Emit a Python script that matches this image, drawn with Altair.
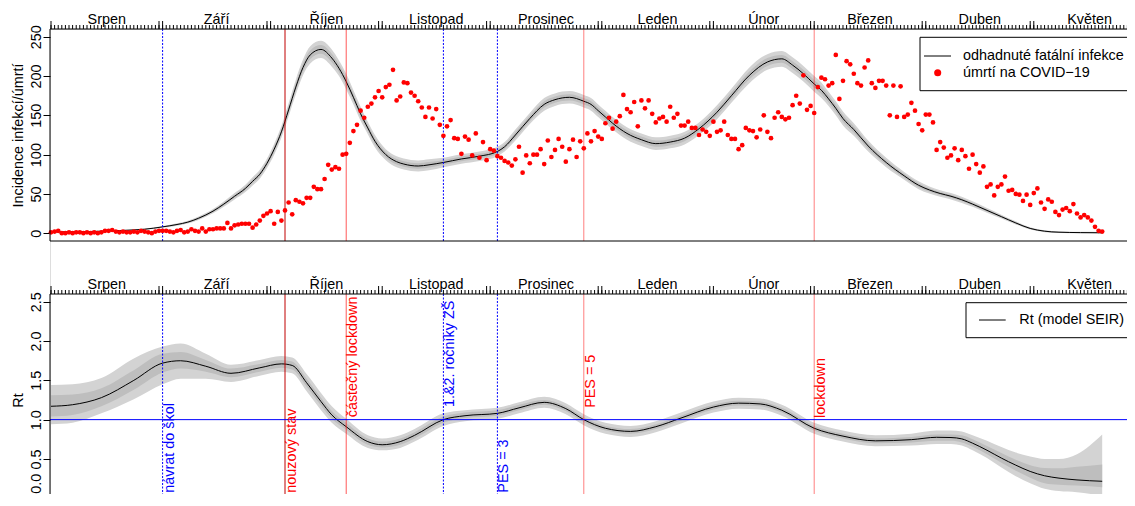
import altair as alt
import pandas as pd

FONT = "Liberation Sans"
FS = 14.4

# ---------------- data ----------------
months = ["Srpen", "Září", "Říjen", "Listopad", "Prosinec", "Leden", "Únor", "Březen", "Duben", "Květen"]
# days since 1 Aug 2020 at which each month starts (last = 1 June)
month_start = [0, 31, 61, 92, 122, 153, 184, 212, 243, 273, 304]

# daily COVID-19 deaths, day 0 = 1 Aug 2020
deaths = [
    1, 2, 3, 0, 0, 1, 0, 1, 1, 0, 1, 0, 1, 0, 1, 3, 3, 4, 2, 1, 2, 1, 1, 2, 1, 3, 2, 1, 0, 2, 3, 3,
    3, 2, 1, 3, 4, 1, 2, 5, 3, 2, 6, 2, 5, 5, 6, 6, 6, 13, 6, 10, 11, 12, 12, 12, 7, 11,
    16, 22, 25, 28, 12, 27, 16, 29, 39, 24, 42, 40, 38, 45, 45, 59, 56, 56, 69, 87, 81, 84, 82, 100, 101,
    115, 130, 138, 156, 147, 161, 165, 173, 181, 173, 186, 189, 208, 169, 174, 192, 191, 179, 175, 168,
    160, 148, 160, 146, 158, 138,
    124, 136, 144, 121, 120, 101, 123, 119, 99, 127, 96, 116, 93, 107, 105, 98, 96, 92, 90, 86,
    94, 110, 77, 99, 89, 100, 100, 107, 88, 118, 97, 106, 120, 110, 91, 107, 119, 97, 117, 108,
    127, 117, 130, 123, 120, 140, 147,
    133, 142, 149, 176, 158, 154, 167, 136, 169, 159, 169, 152, 141, 146, 148, 142, 161, 147, 152, 137,
    137, 142, 134, 134, 125, 132, 129, 124, 142, 129, 131, 142, 125, 120, 120, 107, 112, 134, 131, 130,
    122, 132, 150, 129, 121, 147, 154,
    148, 145, 147, 163, 175, 165, 201, 157, 162, 153, 186, 198, 196, 188, 191, 227, 171, 194, 219, 215,
    203, 191, 188, 211, 220, 191, 185, 194, 194, 188, 150, 188, 148, 187, 148, 151, 166, 156, 139, 131,
    151, 151, 141, 106, 116, 109, 96, 99, 108, 93, 106, 98, 82, 100, 88, 77, 85, 59, 62, 48,
    59, 62, 72, 54, 55, 50, 49, 41, 49, 36, 51, 57, 39, 31, 43, 40, 27, 23, 30, 32,
    28, 37, 25, 20, 23, 20, 16, 8, 3, 2,
]

# estimated fatal infections (model), with 95 % and 50 % half-widths
inf_day = [0, 10, 20, 26, 31, 35, 38, 41, 45, 48,
           51, 54, 56, 58, 60, 62, 64, 66, 68, 70,
           72, 75, 78, 80, 82, 84, 86, 88, 90, 93,
           96, 98, 102, 105, 109, 114, 119, 124, 126, 129,
           133, 137, 140, 144, 148, 150, 152, 154, 156, 160,
           164, 168, 172, 176, 180, 185, 189, 194, 199, 203,
           206, 209, 212, 214, 216, 218, 220, 223, 227, 232,
           237, 241, 244, 247, 250, 253, 256, 260, 264, 268,
           272, 276, 280, 286, 292]
inf_val = [1.5, 2, 3.5, 5, 8, 11, 14, 19, 28, 37,
           47, 57, 66, 75, 89, 107, 129, 157, 186, 211,
           227, 234, 223, 210, 193, 173, 152, 134, 117, 100,
           91, 88, 85.5, 87, 90, 94.5, 98, 104, 110, 125,
           146, 164, 170, 173, 168, 164, 156, 148, 140, 127,
           119, 114, 116, 121, 133, 154, 175, 201, 218, 222,
           214, 203, 190, 182, 171, 159, 146, 132, 111, 90,
           73, 61, 55, 50.5, 47, 42.5, 37, 29, 21, 13,
           6, 2.5, 1.2, 0.7, 0.5]
inf_hw95 = [0.3, 0.4, 0.6, 0.8, 1.2, 1.5, 1.8, 2.2, 2.8, 3.4,
            4, 4.6, 5.2, 5.6, 6, 7, 7.5, 8.5, 9.5, 10,
            11, 11, 11, 10, 10, 9, 9, 8, 8, 7,
            7, 7, 7, 7, 6, 6, 6, 6, 6, 7,
            7, 8, 8, 8, 8, 8, 8, 8, 8, 8,
            8, 8, 8, 8, 8, 9, 9, 10, 10, 10,
            10, 10, 10, 10, 9, 9, 9, 8, 7, 6,
            5, 5, 4.5, 4, 4, 4, 3.5, 3, 2.5, 2,
            1.5, 1.2, 1, 1, 1]
inf_hw50 = [0.15, 0.2, 0.3, 0.4, 0.6, 0.7, 0.9, 1.1, 1.4, 1.7,
            2, 2.3, 2.6, 2.8, 3, 3.5, 3.8, 4.2, 4.7, 5,
            5.5, 5.5, 5.5, 5, 5, 4.5, 4.5, 4, 4, 3.5,
            3.5, 3.5, 3.5, 3.5, 3, 3, 3, 3, 3, 3.5,
            3.5, 4, 4, 4, 4, 4, 4, 4, 4, 4,
            4, 4, 4, 4, 4, 4.5, 4.5, 5, 5, 5,
            5, 5, 5, 5, 4.5, 4.5, 4.5, 4, 3.5, 3,
            2.5, 2.5, 2.2, 2, 2, 2, 1.8, 1.5, 1.2, 1,
            0.8, 0.6, 0.5, 0.5, 0.5]

# Rt (SEIR model) with 95 % and 50 % intervals
rt_day = [0, 6, 14, 23, 31, 36, 43, 50, 58, 64,
          67, 71, 75, 78, 82, 88, 92, 97, 101, 109,
          115, 124, 130, 137, 143, 148, 154, 161, 168, 175,
          184, 191, 197, 203, 212, 220, 229, 239, 246, 250,
          253, 256, 260, 264, 268, 272, 276, 280, 285, 292]
rt_val = [1.17, 1.19, 1.28, 1.50, 1.72, 1.75, 1.68, 1.59, 1.66, 1.71,
          1.69, 1.47, 1.23, 1.06, 0.91, 0.72, 0.68, 0.72, 0.80, 1.00,
          1.05, 1.08, 1.15, 1.22, 1.14, 1.00, 0.89, 0.85, 0.91, 1.02,
          1.16, 1.21, 1.20, 1.12, 0.89, 0.79, 0.73, 0.745, 0.775, 0.772,
          0.755, 0.70, 0.61, 0.51, 0.42, 0.34, 0.285, 0.255, 0.232, 0.215]
rt_lo95 = [0.94, 0.96, 1.08, 1.26, 1.45, 1.52, 1.52, 1.48, 1.56, 1.61,
           1.59, 1.36, 1.12, 0.96, 0.82, 0.64, 0.61, 0.64, 0.72, 0.92,
           0.98, 1.01, 1.08, 1.15, 1.07, 0.93, 0.82, 0.78, 0.84, 0.95,
           1.09, 1.14, 1.13, 1.05, 0.82, 0.72, 0.66, 0.67, 0.69, 0.69,
           0.67, 0.61, 0.51, 0.39, 0.28, 0.19, 0.12, 0.09, 0.075, 0.03]
rt_hi95 = [1.44, 1.45, 1.53, 1.78, 1.93, 1.97, 1.84, 1.70, 1.76, 1.81,
           1.79, 1.58, 1.34, 1.17, 1.01, 0.80, 0.76, 0.80, 0.88, 1.08,
           1.12, 1.15, 1.22, 1.29, 1.21, 1.07, 0.96, 0.92, 0.98, 1.09,
           1.23, 1.28, 1.27, 1.19, 0.96, 0.86, 0.80, 0.82, 0.86, 0.86,
           0.85, 0.80, 0.73, 0.65, 0.58, 0.53, 0.50, 0.50, 0.56, 0.81]
rt_lo50 = [1.04, 1.06, 1.17, 1.38, 1.60, 1.65, 1.61, 1.54, 1.61, 1.66,
           1.64, 1.42, 1.18, 1.01, 0.87, 0.68, 0.645, 0.68, 0.76, 0.96,
           1.02, 1.05, 1.12, 1.19, 1.11, 0.97, 0.86, 0.82, 0.88, 0.99,
           1.13, 1.18, 1.17, 1.09, 0.86, 0.76, 0.70, 0.71, 0.73, 0.73,
           0.71, 0.655, 0.56, 0.45, 0.35, 0.26, 0.19, 0.17, 0.16, 0.14]
rt_hi50 = [1.31, 1.32, 1.40, 1.63, 1.84, 1.86, 1.76, 1.65, 1.71, 1.76,
           1.74, 1.52, 1.28, 1.11, 0.96, 0.76, 0.72, 0.76, 0.84, 1.04,
           1.09, 1.12, 1.19, 1.25, 1.17, 1.03, 0.92, 0.88, 0.94, 1.05,
           1.19, 1.24, 1.23, 1.15, 0.92, 0.82, 0.76, 0.78, 0.81, 0.81,
           0.80, 0.75, 0.665, 0.575, 0.49, 0.42, 0.385, 0.38, 0.40, 0.43]
rt_threshold = [1.0]

# interventions
ev_day = [31, 65, 82, 109, 124, 148, 212]
ev_label = ["návrat do škol", "nouzový stav", "částečný lockdown", "1.&2. ročníky ZŠ",
            "PES = 3", "PES = 5", "lockdown"]
ev_color = ["#0000ff", "#c00000", "#ff0000", "#0000ff", "#0000ff", "#ff0000", "#ff0000"]
ev_label_color = ["#0000ff", "#ff0000", "#ff0000", "#0000ff", "#0000ff", "#ff0000", "#ff0000"]
ev_opacity = [1, 1, 0.65, 1, 1, 0.5, 0.5]
ev_dotted = [True, False, False, True, True, False, False]
ev_label_rt = [0.07, 0.07, 1.03, 1.16, 0.07, 1.15, 1.02]

legend_top = ["odhadnuté fatální infekce", "úmrtí na COVID−19"]
legend_bottom = ["Rt (model SEIR)"]

# ---------------- frames ----------------
deaths_df = pd.DataFrame({"day": list(range(len(deaths))), "deaths": deaths})
inf_df = pd.DataFrame({"day": inf_day, "val": inf_val,
                       "lo95": [v - h for v, h in zip(inf_val, inf_hw95)],
                       "hi95": [v + h for v, h in zip(inf_val, inf_hw95)],
                       "lo50": [v - h for v, h in zip(inf_val, inf_hw50)],
                       "hi50": [v + h for v, h in zip(inf_val, inf_hw50)]})
rt_df = pd.DataFrame({"day": rt_day, "rt": rt_val, "lo95": rt_lo95, "hi95": rt_hi95,
                      "lo50": rt_lo50, "hi50": rt_hi50})
ev_df = pd.DataFrame({"day": ev_day, "label": ev_label, "color": ev_color,
                      "lcolor": ev_label_color,
                      "opacity": ev_opacity, "dotted": ev_dotted, "ly": ev_label_rt})
thr_df = pd.DataFrame({"rt": rt_threshold})
one = pd.DataFrame({"k": [0]})

month_mid = [(a + b) / 2 for a, b in zip(month_start[:-1], month_start[1:])]
long_ticks = sorted(set(month_start + [s - 1 for s in month_start if s > 0]))
day_ticks = list(range(0, 306))
day_df = pd.DataFrame({"day": day_ticks})
long_df = pd.DataFrame({"day": long_ticks})
mlab_df = pd.DataFrame({"day": month_mid, "name": months})

# ---------------- layout (pixels inside the view) ----------------
PW = 1100                 # panel width (runs past the right page edge, like the original)
T0, T1 = 0, 212           # top panel
B0, B1 = 265, 477         # bottom panel
VIEW_W, VIEW_H = 1077, 465

xs = alt.Scale(domain=[-0.28, 305.28], range=[0, PW], nice=False, zero=False)
ys_top = alt.Scale(domain=[-10, 260], range=[T1, T0], nice=False, zero=False)
ys_bot = alt.Scale(domain=[-0.1, 2.6], range=[B1, B0], nice=False, zero=False)
X = lambda f: alt.X(f, scale=xs, axis=None)


def frame(y0, y1):
    return alt.Chart(one).mark_rect(fill=None, stroke="black", strokeWidth=1).encode(
        x=alt.value(0), x2=alt.value(PW + 20), y=alt.value(y0), y2=alt.value(y1))


def top_axis_layers(y0):
    small = alt.Chart(day_df).mark_rule(color="black", strokeWidth=1).encode(
        x=X("day:Q"), y=alt.value(y0), y2=alt.value(y0 - 4))
    big = alt.Chart(long_df).mark_rule(color="black", strokeWidth=1).encode(
        x=X("day:Q"), y=alt.value(y0), y2=alt.value(y0 - 8))
    lab = alt.Chart(mlab_df).mark_text(baseline="alphabetic", align="center", font=FONT,
                                       fontSize=FS, color="black").encode(
        x=X("day:Q"), y=alt.value(y0 - 5), text="name:N")
    return [small, big, lab]


def ax_y(values, title, fmt, bottom_lift=0):
    return alt.Axis(orient="left", values=values, format=fmt, tickSize=7, tickColor="black",
                    labelAngle=270, labelAlign="center", labelBaseline="bottom", labelPadding=0,
                    labelOffset={"condition": {"test": "datum.value === 0", "value": -bottom_lift},
                                 "value": 0},
                    labelFont=FONT, labelFontSize=FS, labelColor="black",
                    domain=False, grid=False, title=title, titleFont=FONT, titleFontSize=FS,
                    titleFontWeight="normal", titleColor="black", titlePadding=2.3)


def event_rules(y0, y1):
    solid = alt.Chart(ev_df).transform_filter("!datum.dotted").mark_rule(strokeWidth=1).encode(
        x=X("day:Q"), y=alt.value(y0), y2=alt.value(y1),
        color=alt.Color("color:N", scale=None),
        opacity=alt.Opacity("opacity:Q", scale=None))
    dotted = alt.Chart(ev_df).transform_filter("datum.dotted").mark_rule(
        strokeWidth=1, strokeDash=[2, 1.5]).encode(
        x=X("day:Q"), y=alt.value(y0), y2=alt.value(y1),
        color=alt.Color("color:N", scale=None))
    return [solid, dotted]


# ---------------- top panel ----------------
t_b95 = alt.Chart(inf_df).mark_area(color="#d3d3d3", interpolate="monotone").encode(
    x=X("day:Q"),
    y=alt.Y("lo95:Q", scale=ys_top,
            axis=ax_y([0, 50, 100, 150, 200, 250], "Incidence infekcí/úmrtí", "d")),
    y2="hi95:Q")
t_b50 = alt.Chart(inf_df).mark_area(color="#bebebe", interpolate="monotone").encode(
    x=X("day:Q"), y=alt.Y("lo50:Q", scale=ys_top, axis=None), y2="hi50:Q")
t_line = alt.Chart(inf_df).mark_line(color="black", strokeWidth=1, interpolate="monotone").encode(
    x=X("day:Q"), y=alt.Y("val:Q", scale=ys_top, axis=None))
t_pts = alt.Chart(deaths_df).mark_circle(color="#ff0000", size=22, opacity=1).encode(
    x=X("day:Q"), y=alt.Y("deaths:Q", scale=ys_top, axis=None))

LX = -4
leg_t_box = alt.Chart(one).mark_rect(fill="white", stroke="black", strokeWidth=1).encode(
    x=alt.value(874 + LX), x2=alt.value(PW), y=alt.value(T0 + 8.3), y2=alt.value(T0 + 61.7))
leg_t_line = alt.Chart(one).mark_rule(color="black", strokeWidth=1).encode(
    x=alt.value(878 + LX), x2=alt.value(905 + LX), y=alt.value(T0 + 27))
leg_t_pt = alt.Chart(one).mark_circle(color="#ff0000", size=50, opacity=1).encode(
    x=alt.value(891.7 + LX), y=alt.value(T0 + 43.7))
leg_t_txt1 = alt.Chart(one).mark_text(text=legend_top[0], align="left", baseline="middle",
                                      font=FONT, fontSize=FS, color="black").encode(
    x=alt.value(917 + LX), y=alt.value(T0 + 27))
leg_t_txt2 = alt.Chart(one).mark_text(text=legend_top[1], align="left", baseline="middle",
                                      font=FONT, fontSize=FS, color="black").encode(
    x=alt.value(917 + LX), y=alt.value(T0 + 43.7))

# ---------------- bottom panel ----------------
b_b95 = alt.Chart(rt_df).mark_area(color="#d3d3d3", interpolate="monotone").encode(
    x=X("day:Q"),
    y=alt.Y("lo95:Q", scale=ys_bot,
            axis=ax_y([0, 0.5, 1.0, 1.5, 2.0, 2.5], "Rt", ".1f", bottom_lift=15)),
    y2="hi95:Q")
b_b50 = alt.Chart(rt_df).mark_area(color="#bebebe", interpolate="monotone").encode(
    x=X("day:Q"), y=alt.Y("lo50:Q", scale=ys_bot, axis=None), y2="hi50:Q")
b_line = alt.Chart(rt_df).mark_line(color="black", strokeWidth=1, interpolate="monotone").encode(
    x=X("day:Q"), y=alt.Y("rt:Q", scale=ys_bot, axis=None))
b_thr = alt.Chart(thr_df).mark_rule(color="#0000ff", strokeWidth=1).encode(
    x=alt.value(0), x2=alt.value(PW),
    y=alt.Y("rt:Q", scale=ys_bot, axis=None))
b_lbl = alt.Chart(ev_df).mark_text(angle=270, align="left", baseline="top", font=FONT,
                                   fontSize=FS).encode(
    x=X("day:Q"),
    y=alt.Y("ly:Q", scale=ys_bot, axis=None),
    text="label:N",
    color=alt.Color("lcolor:N", scale=None))

BX = -5
leg_b_box = alt.Chart(one).mark_rect(fill="white", stroke="black", strokeWidth=1).encode(
    x=alt.value(921 + BX), x2=alt.value(PW), y=alt.value(B0 + 8.7), y2=alt.value(B0 + 43.7))
leg_b_line = alt.Chart(one).mark_rule(color="black", strokeWidth=1).encode(
    x=alt.value(934 + BX), x2=alt.value(960.7 + BX), y=alt.value(B0 + 26))
leg_b_txt = alt.Chart(one).mark_text(text=legend_bottom[0], align="left", baseline="middle",
                                     font=FONT, fontSize=FS, color="black").encode(
    x=alt.value(974.3 + BX), y=alt.value(B0 + 26))

chart = alt.layer(
    # top panel
    t_b95, t_b50, t_line, *event_rules(T0, T1), t_pts, frame(T0, T1), *top_axis_layers(T0),
    leg_t_box, leg_t_line, leg_t_pt, leg_t_txt1, leg_t_txt2,
    # bottom panel
    b_b95, b_b50, b_line, *event_rules(B0, B1), b_thr, b_lbl, frame(B0, B1), *top_axis_layers(B0),
    leg_b_box, leg_b_line, leg_b_txt,
).resolve_scale(y="independent").properties(
    width=VIEW_W, height=VIEW_H,
    autosize=alt.AutoSizeParams(type="none"),
    padding={"left": 42, "top": 21, "right": 0, "bottom": 0},
).configure_view(stroke=None).configure(background="white")

chart.save("out.html", embed_options={"renderer": "svg", "actions": False})
